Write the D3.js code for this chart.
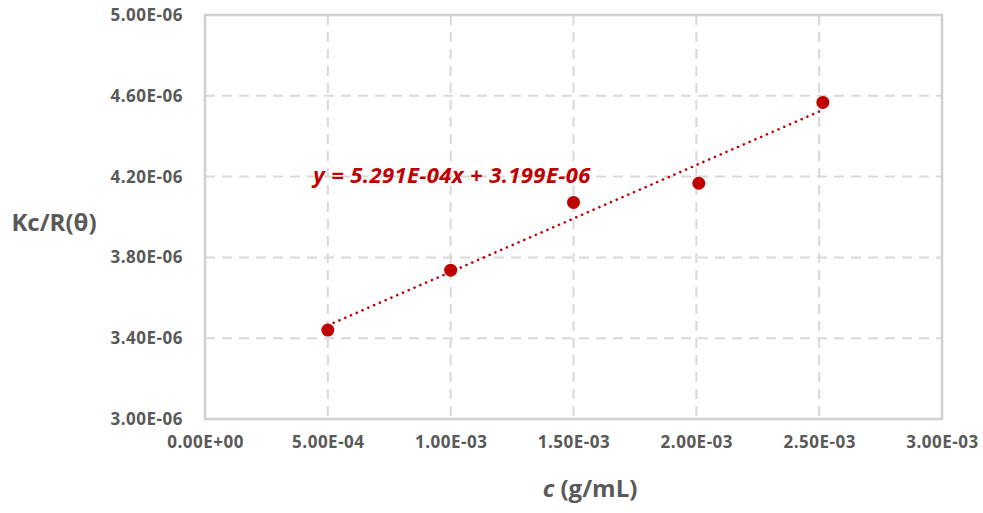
<!DOCTYPE html>
<html lang="en">
  <head>
    <meta charset="UTF-8" />
    <title>Kc/R(θ) vs c</title>
    <script src="https://d3js.org/d3.v7.min.js"></script>
    <style>
      body {
        margin: 0;
        background: #fff;
        font-family: "Open Sans", sans-serif;
      }
    </style>
  </head>
  <body>
    <div id="chart"></div>
    <script>
      // data
      const concentration = [5.0e-4, 1.0e-3, 1.5e-3, 2.01e-3, 2.515e-3];
      const kcOverR = [3.44e-6, 3.737e-6, 4.072e-6, 4.167e-6, 4.567e-6];
      const xTicks = [0, 5e-4, 1e-3, 1.5e-3, 2e-3, 2.5e-3, 3e-3];
      const yTicks = [3.0e-6, 3.4e-6, 3.8e-6, 4.2e-6, 4.6e-6, 5.0e-6];
      const slope = 5.291e-4;
      const intercept = 3.199e-6;

      const width = 983;
      const height = 513;
      const margin = { top: 15, right: 41, bottom: 94, left: 205 };
      const font = "'Open Sans', sans-serif";

      const svg = d3
        .select("#chart")
        .append("svg")
        .attr("width", width)
        .attr("height", height);

      const x = d3
        .scaleLinear()
        .domain([0, 3e-3])
        .range([margin.left, width - margin.right]);

      const y = d3
        .scaleLinear()
        .domain([3e-6, 5e-6])
        .range([height - margin.bottom, margin.top]);

      const fmt = (v, digits = 2) => {
        const [m, e] = v.toExponential(digits).toUpperCase().split("E");
        const sign = e[0] === "-" ? "-" : "+";
        const exp = e.replace(/[+-]/, "").padStart(2, "0");
        return m + "E" + sign + exp;
      };

      // grid
      const grid = svg
        .append("g")
        .attr("stroke", "#d9d9d9")
        .attr("stroke-width", 2)
        .attr("stroke-dasharray", "10,7");

      grid
        .selectAll("line.v")
        .data(xTicks.slice(1, -1))
        .join("line")
        .attr("class", "v")
        .attr("x1", (d) => x(d))
        .attr("x2", (d) => x(d))
        .attr("y1", y.range()[1])
        .attr("y2", y.range()[0]);

      grid
        .selectAll("line.h")
        .data(yTicks.slice(1, -1))
        .join("line")
        .attr("class", "h")
        .attr("x1", x.range()[0])
        .attr("x2", x.range()[1])
        .attr("y1", (d) => y(d))
        .attr("y2", (d) => y(d));

      // plot frame
      svg
        .append("rect")
        .attr("x", x.range()[0])
        .attr("y", y.range()[1])
        .attr("width", x.range()[1] - x.range()[0])
        .attr("height", y.range()[0] - y.range()[1])
        .attr("fill", "none")
        .attr("stroke", "#d0d0d0")
        .attr("stroke-width", 2.5);

      // axes (labels only)
      const xAxis = svg
        .append("g")
        .attr("transform", `translate(0,${y.range()[0]})`)
        .call(d3.axisBottom(x).tickValues(xTicks).tickFormat((d) => fmt(d)).tickSize(0).tickPadding(17));

      const yAxis = svg
        .append("g")
        .attr("transform", `translate(${x.range()[0]},0)`)
        .call(d3.axisLeft(y).tickValues(yTicks).tickFormat((d) => fmt(d)).tickSize(0).tickPadding(22));

      [xAxis, yAxis].forEach((g) => {
        g.select(".domain").remove();
        g.selectAll("text")
          .attr("fill", "#595959")
          .style("font-size", "17px")
          .style("font-weight", "bold")
          .style("letter-spacing", "0.5px")
          .style("font-family", font);
      });

      // trendline
      const xMin = d3.min(concentration);
      const xMax = d3.max(concentration);
      svg
        .append("line")
        .attr("x1", x(xMin))
        .attr("y1", y(slope * xMin + intercept))
        .attr("x2", x(xMax))
        .attr("y2", y(slope * xMax + intercept))
        .attr("stroke", "#c00000")
        .attr("stroke-width", 2.6)
        .attr("stroke-linecap", "round")
        .attr("stroke-dasharray", "0.1,6.2");

      // points
      svg
        .append("g")
        .selectAll("circle")
        .data(concentration)
        .join("circle")
        .attr("cx", (d) => x(d))
        .attr("cy", (d, i) => y(kcOverR[i]))
        .attr("r", 6.5)
        .attr("fill", "#c00000");

      // trendline equation
      svg
        .append("text")
        .attr("x", 452)
        .attr("y", 183)
        .attr("text-anchor", "middle")
        .attr("fill", "#c00000")
        .style("font-size", "22px")
        .style("font-weight", "bold")
        .style("font-style", "italic")
        .style("letter-spacing", "0.4px")
        .style("font-family", font)
        .text(`y = ${fmt(slope, 3)}x + ${fmt(intercept, 3)}`);

      // axis titles
      svg
        .append("text")
        .attr("x", 54)
        .attr("y", 231)
        .attr("text-anchor", "middle")
        .attr("fill", "#595959")
        .style("font-size", "24px")
        .style("font-weight", "bold")
        .style("font-family", font)
        .text("Kc/R(θ)");

      const xTitle = svg
        .append("text")
        .attr("x", 590)
        .attr("y", 497)
        .attr("text-anchor", "middle")
        .attr("fill", "#595959")
        .style("font-size", "24px")
        .style("font-weight", "bold")
        .style("font-family", font);
      xTitle.append("tspan").style("font-style", "italic").text("c");
      xTitle.append("tspan").text(" (g/mL)");
    </script>
  </body>
</html>
